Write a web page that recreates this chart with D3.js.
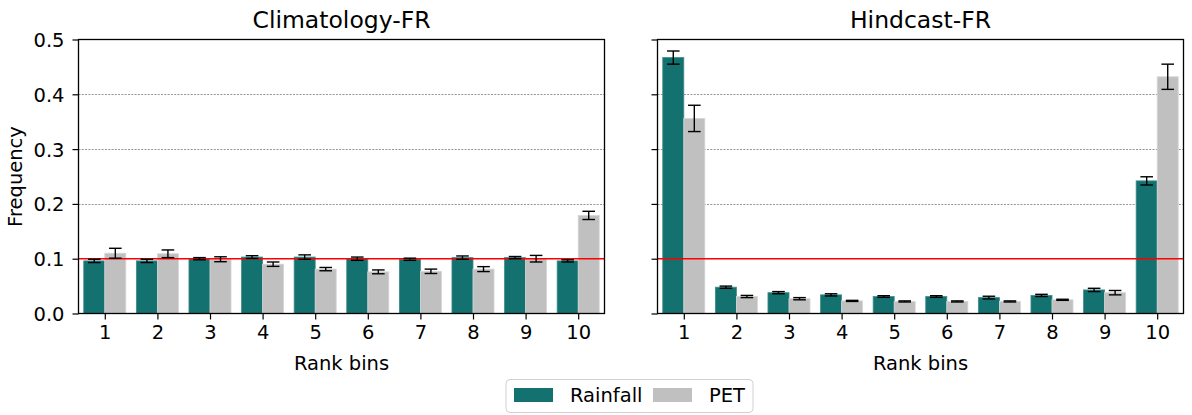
<!DOCTYPE html>
<html lang="en">
<head>
<meta charset="UTF-8">
<title>Rank histograms</title>
<script src="https://cdn.jsdelivr.net/npm/d3@7"></script>
<style>
  body { margin: 0; background: #fff; }
  svg text { font-family: "DejaVu Sans", sans-serif; fill: #000; }
</style>
</head>
<body>
<div id="output"></div>
<script>

var bins = [1, 2, 3, 4, 5, 6, 7, 8, 9, 10];
var yTicks = [0.0, 0.1, 0.2, 0.3, 0.4, 0.5];

// Climatology-FR
var climRain    = [0.096, 0.096, 0.100, 0.103, 0.103, 0.100, 0.099, 0.102, 0.102, 0.096];
var climRainErr = [0.003, 0.003, 0.002, 0.0025, 0.004, 0.003, 0.002, 0.003, 0.002, 0.002];
var climPet     = [0.110, 0.109, 0.099, 0.090, 0.081, 0.076, 0.077, 0.081, 0.100, 0.179];
var climPetErr  = [0.009, 0.007, 0.0045, 0.004, 0.003, 0.0035, 0.004, 0.0045, 0.006, 0.0075];

// Hindcast-FR
var hindRain    = [0.467, 0.048, 0.038, 0.034, 0.031, 0.031, 0.029, 0.033, 0.043, 0.242];
var hindRainErr = [0.012, 0.002, 0.002, 0.002, 0.0015, 0.0015, 0.0025, 0.002, 0.003, 0.0075];
var hindPet     = [0.356, 0.031, 0.027, 0.023, 0.022, 0.022, 0.022, 0.025, 0.038, 0.432];
var hindPetErr  = [0.024, 0.002, 0.002, 0.001, 0.001, 0.001, 0.001, 0.001, 0.004, 0.023];

var seriesNames = ["Rainfall", "PET"];
var colors = ["#137170", "#c0c0c0"];

var w = 1192, h = 415;
var svg = d3.select("#output").append("svg")
    .attr("width", w)
    .attr("height", h);

var plotTop = 39.5, plotBottom = 313.5;
var y = d3.scaleLinear().domain([0, 0.5]).range([plotBottom, plotTop]);

var panels = [
    { title: "Climatology-FR", left: 78.5, right: 604.5, rain: climRain, rainErr: climRainErr, pet: climPet, petErr: climPetErr, labels: true },
    { title: "Hindcast-FR", left: 657.5, right: 1183.5, rain: hindRain, rainErr: hindRainErr, pet: hindPet, petErr: hindPetErr, labels: false }
];

panels.forEach(function (p) {
    var x = d3.scaleLinear().domain([0.5, 10.5]).range([p.left, p.right]);
    var bw = x(1.4) - x(1);
    var g = svg.append("g");

    // grid
    g.selectAll(".grid").data([0.2, 0.3, 0.4]).enter().append("line")
        .attr("x1", p.left).attr("x2", p.right)
        .attr("y1", function (d) { return Math.round(y(d)) + 0.5; })
        .attr("y2", function (d) { return Math.round(y(d)) + 0.5; })
        .attr("stroke", "#7a7a7a").attr("stroke-width", 0.8)
        .attr("stroke-dasharray", "2,1.3");

    var sets = [
        { vals: p.rain, errs: p.rainErr, off: -0.4, color: colors[0], edge: "#3e8d8b" },
        { vals: p.pet, errs: p.petErr, off: 0, color: colors[1], edge: "#d6d6d6" }
    ];

    sets.forEach(function (s) {
        g.selectAll(null).data(bins).enter().append("rect")
            .attr("x", function (d) { return x(d + s.off); })
            .attr("width", bw)
            .attr("y", function (d, i) { return y(s.vals[i]); })
            .attr("height", function (d, i) { return plotBottom - y(s.vals[i]); })
            .attr("fill", s.color)
            .attr("stroke", s.edge).attr("stroke-width", 0.8);
    });

    // red reference line
    g.append("line")
        .attr("x1", p.left).attr("x2", p.right)
        .attr("y1", y(0.1)).attr("y2", y(0.1))
        .attr("stroke", "#ff0000").attr("stroke-width", 1.6);

    // error bars
    sets.forEach(function (s) {
        var eg = g.selectAll(null).data(bins).enter().append("g")
            .attr("transform", function (d) { return "translate(" + x(d + s.off + 0.2) + ",0)"; });
        eg.append("line")
            .attr("y1", function (d, i) { return y(s.vals[i] - s.errs[i]); })
            .attr("y2", function (d, i) { return y(s.vals[i] + s.errs[i]); })
            .attr("stroke", "#000").attr("stroke-width", 1.4);
        [-1, 1].forEach(function (sg) {
            eg.append("line")
                .attr("x1", -6.3).attr("x2", 6.3)
                .attr("y1", function (d, i) { return y(s.vals[i] + sg * s.errs[i]); })
                .attr("y2", function (d, i) { return y(s.vals[i] + sg * s.errs[i]); })
                .attr("stroke", "#000").attr("stroke-width", 1.4);
        });
    });

    // axes
    var xAxis = d3.axisBottom(x).tickValues(bins).tickSize(6).tickPadding(6).tickSizeOuter(0);
    var gx = svg.append("g").attr("transform", "translate(0," + plotBottom + ")").call(xAxis);
    gx.select(".domain").remove();
    gx.selectAll("line").attr("stroke", "#000").attr("stroke-width", 1.2);
    gx.selectAll("text").attr("font-size", "19.5px").attr("font-family", "DejaVu Sans");

    var yAxis = d3.axisLeft(y).tickValues(yTicks).tickSize(6).tickPadding(8)
        .tickFormat(p.labels ? d3.format(".1f") : function () { return ""; });
    var gy = svg.append("g").attr("transform", "translate(" + p.left + ",0)").call(yAxis);
    gy.select(".domain").remove();
    gy.selectAll("line").attr("stroke", "#000").attr("stroke-width", 1.2);
    gy.selectAll("text").attr("font-size", "19.5px").attr("font-family", "DejaVu Sans").attr("dy", "0.36em");

    // frame
    svg.append("rect")
        .attr("x", p.left).attr("y", plotTop)
        .attr("width", p.right - p.left).attr("height", plotBottom - plotTop)
        .attr("fill", "none").attr("stroke", "#000").attr("stroke-width", 1.3);

    svg.append("text")
        .attr("x", (p.left + p.right) / 2).attr("y", 28)
        .attr("text-anchor", "middle").attr("font-size", "23.5px")
        .text(p.title);

    svg.append("text")
        .attr("x", (p.left + p.right) / 2).attr("y", 370)
        .attr("text-anchor", "middle").attr("font-size", "19.5px")
        .text("Rank bins");
});

svg.append("text")
    .attr("transform", "translate(22," + (plotTop + plotBottom) / 2 + ") rotate(-90)")
    .attr("text-anchor", "middle").attr("font-size", "19.5px")
    .text("Frequency");

// legend
var lg = svg.append("g");
lg.append("rect")
    .attr("x", 506).attr("y", 379.5).attr("width", 247).attr("height", 33)
    .attr("rx", 4).attr("fill", "#fff").attr("stroke", "#d0d0d0").attr("stroke-width", 1);
var legendX = [514, 653];
seriesNames.forEach(function (name, i) {
    lg.append("rect")
        .attr("x", legendX[i]).attr("y", 388).attr("width", 39).attr("height", 14)
        .attr("fill", colors[i]);
    lg.append("text")
        .attr("x", legendX[i] + 56).attr("y", 402)
        .attr("font-size", "19.5px")
        .text(name);
});

</script>
</body>
</html>
